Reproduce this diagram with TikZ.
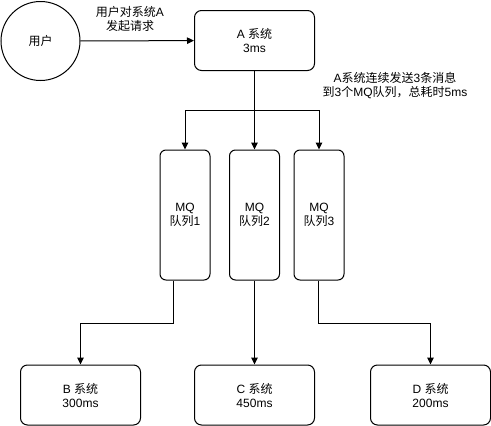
\documentclass[tikz,border=0pt]{standalone}
\usepackage{fontspec}
\setmainfont{Liberation Sans}
\newfontfamily\cjk{Noto Sans CJK SC}
\newcommand{\zh}[1]{{\cjk #1}}
\usetikzlibrary{arrows.meta,calc}
\begin{document}
\begin{tikzpicture}[x=1pt,y=-1pt,
  every node/.style={font=\fontsize{12}{14}\selectfont, align=center, text=black},
  sysbox/.style={draw, line width=1pt, rounded corners=7pt, minimum width=120pt, minimum height=60pt, inner sep=0pt},
  mqbox/.style={draw, line width=1pt, rounded corners=6pt, minimum width=50pt, minimum height=130pt, inner sep=0pt},
  userc/.style={draw, line width=1pt, circle, minimum size=79pt, inner sep=0pt},
  arr/.style={draw, line width=1pt, -{Triangle[length=7pt,width=6.5pt]}},
  lbl/.style={inner sep=0pt}
]
\useasboundingbox (0,0) rectangle (491,426);
\node[userc] (user) at (40.5,41) {\zh{用户}};
\node[sysbox] (A) at (254.5,40.5) {A \zh{系统}\\3ms};
\node[mqbox] (M1) at (185,215) {MQ\\\zh{队列}1};
\node[mqbox] (M2) at (254.5,215) {MQ\\\zh{队列}2};
\node[mqbox] (M3) at (319,215) {MQ\\\zh{队列}3};
\node[sysbox] (B) at (80.5,395) {B \zh{系统}\\300ms};
\node[sysbox] (C) at (254.5,395) {C \zh{系统}\\450ms};
\node[sysbox] (D) at (430.5,395) {D \zh{系统}\\200ms};
\node[lbl] (l1) at (130,19) {\zh{用户对系统}A\\\zh{发起请求}};
\node[lbl] (l2) at (395,86) {A\zh{系统连续发送}3\zh{条消息}\\\zh{到}3\zh{个}MQ\zh{队列，总耗时}5ms};
\coordinate (bar) at (254.5,110.5);
\coordinate (x1) at (173,0);
\coordinate (x3) at (318.5,0);
\coordinate (y2) at (0,323);
\draw[arr] (user) -- (A);
\draw[arr] (A.south) -- (M2.north);
\draw[arr] (bar) -| (M1.north);
\draw[arr] (bar) -| (M3.north);
\draw[arr] (M1.south -| x1) |- (y2 -| x1) -| (B.north);
\draw[arr] (M2.south) -- (C.north);
\draw[arr] (M3.south -| x3) |- (y2 -| x3) -| (D.north);
\end{tikzpicture}
\end{document}
